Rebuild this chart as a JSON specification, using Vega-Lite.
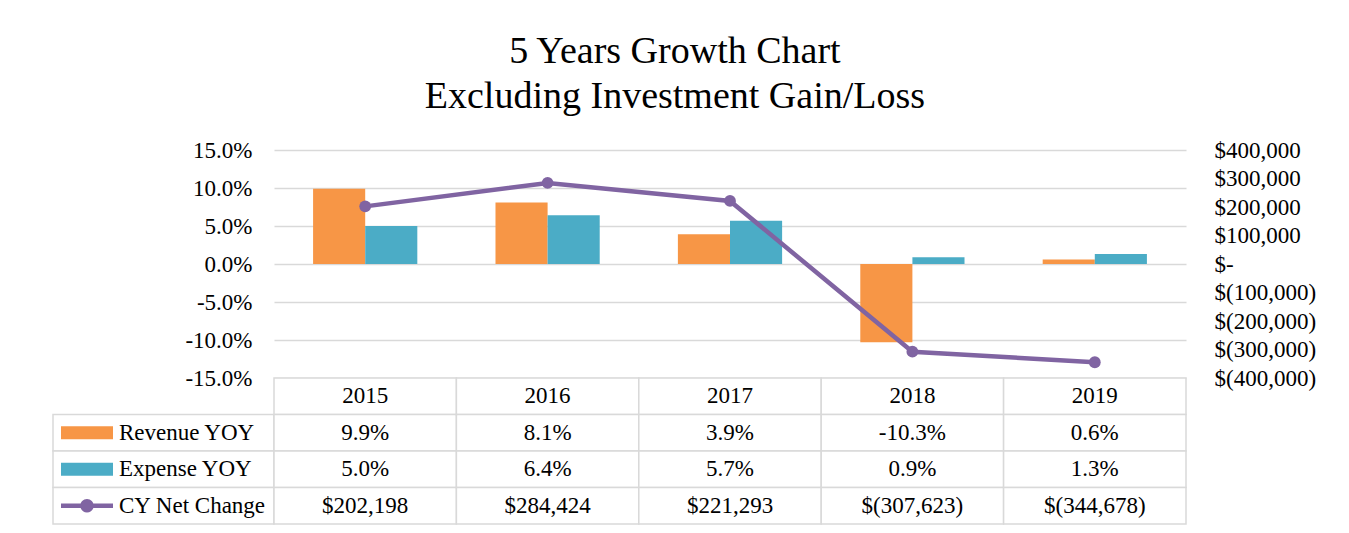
{
  "$schema": "https://vega.github.io/schema/vega-lite/v6.json",
  "background": "white",
  "padding": {"left": 52, "top": 33, "right": 10, "bottom": 5},
  "config": {
    "view": {"stroke": null},
    "font": "Liberation Serif",
    "locale": {"number": {"decimal": ".", "thousands": ",", "grouping": [3], "currency": ["$", ""], "minus": "-"}}
  },
  "title": {
    "text": ["5 Years Growth Chart", "Excluding Investment Gain/Loss"],
    "font": "Liberation Serif",
    "fontSize": 38,
    "fontWeight": "normal",
    "color": "#000000",
    "lineHeight": 45,
    "anchor": "middle",
    "offset": 23,
    "dx": -9
  },
  "datasets": {
    "growth": [
      {"Year": "2015", "Revenue YOY": 0.099, "Expense YOY": 0.050, "CY Net Change": 202198},
      {"Year": "2016", "Revenue YOY": 0.081, "Expense YOY": 0.064, "CY Net Change": 284424},
      {"Year": "2017", "Revenue YOY": 0.039, "Expense YOY": 0.057, "CY Net Change": 221293},
      {"Year": "2018", "Revenue YOY": -0.103, "Expense YOY": 0.009, "CY Net Change": -307623},
      {"Year": "2019", "Revenue YOY": 0.006, "Expense YOY": 0.013, "CY Net Change": -344678}
    ],
    "series": [
      {"series": "Revenue YOY"},
      {"series": "Expense YOY"},
      {"series": "CY Net Change"}
    ]
  },
  "columns": 2,
  "spacing": 0,
  "bounds": "flush",
  "resolve": {"scale": {"x": "independent", "y": "independent", "color": "independent", "shape": "independent"}},
  "concat": [
    {
      "width": 221,
      "height": 228,
      "data": {"values": []},
      "mark": {"type": "text"},
      "encoding": {}
    },
    {
      "width": 912,
      "height": 228,
      "data": {"name": "growth"},
      "layer": [
        {
          "transform": [{"fold": ["Revenue YOY", "Expense YOY"], "as": ["series", "value"]}],
          "mark": {"type": "bar"},
          "encoding": {
            "x": {"field": "Year", "type": "nominal", "scale": {"paddingInner": 0, "paddingOuter": 0}, "axis": null},
            "xOffset": {"field": "series", "type": "nominal", "scale": {"domain": ["Revenue YOY", "Expense YOY"], "paddingInner": 0, "paddingOuter": 0.75}},
            "y": {
              "field": "value", "type": "quantitative",
              "scale": {"domain": [-0.15, 0.15], "nice": false},
              "axis": {
                "orient": "left", "title": null,
                "values": [-0.15, -0.1, -0.05, 0, 0.05, 0.1, 0.15],
                "format": ".1%",
                "grid": true, "gridColor": "#d9d9d9", "gridWidth": 1.5,
                "domain": false, "ticks": false,
                "labelPadding": 22, "labelFontSize": 23, "labelColor": "#000000",
                "labelFont": "Liberation Serif"
              }
            },
            "color": {"field": "series", "type": "nominal", "scale": {"domain": ["Revenue YOY", "Expense YOY"], "range": ["#F79646", "#4BACC6"]}, "legend": null}
          }
        },
        {
          "mark": {"type": "line", "color": "#8064A2", "strokeWidth": 4.5, "point": {"filled": true, "size": 140, "color": "#8064A2"}},
          "encoding": {
            "x": {"field": "Year", "type": "nominal"},
            "y": {
              "field": "CY Net Change", "type": "quantitative",
              "scale": {"domain": [-400000, 400000], "nice": false},
              "axis": {
                "orient": "right", "title": null,
                "values": [-400000, -300000, -200000, -100000, 0, 100000, 200000, 300000, 400000],
                "labelExpr": "datum.value == 0 ? '$-' : (datum.value < 0 ? '$(' + format(-datum.value, ',') + ')' : '$' + format(datum.value, ','))",
                "grid": false, "domain": false, "ticks": false,
                "labelPadding": 28, "labelFontSize": 23, "labelColor": "#000000",
                "labelFont": "Liberation Serif"
              }
            }
          }
        }
      ],
      "resolve": {"scale": {"y": "independent"}}
    },
    {
      "width": 221,
      "height": 146,
      "data": {"name": "series"},
      "encoding": {
        "y": {"field": "series", "type": "nominal", "scale": {"domain": ["Year", "Revenue YOY", "Expense YOY", "CY Net Change"], "paddingInner": 0, "paddingOuter": 0}, "axis": null}
      },
      "layer": [
        {"mark": {"type": "rect", "fill": "white", "stroke": "#d9d9d9", "strokeWidth": 1.5}},
        {
          "mark": {"type": "point", "filled": true, "size": 2704, "opacity": 1, "xOffset": -76.5},
          "encoding": {
            "shape": {"field": "series", "type": "nominal", "legend": null, "scale": {"domain": ["Revenue YOY", "Expense YOY", "CY Net Change"], "range": ["M-1,-0.25H1V0.25H-1Z", "M-1,-0.25H1V0.25H-1Z", "M-1,-0.09H1V0.09H-1Z M0.26,0A0.26,0.26 0 1,1 -0.26,0A0.26,0.26 0 1,1 0.26,0Z"]}},
            "color": {"field": "series", "type": "nominal", "legend": null, "scale": {"domain": ["Revenue YOY", "Expense YOY", "CY Net Change"], "range": ["#F79646", "#4BACC6", "#8064A2"]}}
          }
        },
        {
          "mark": {"type": "text", "fontSize": 23, "align": "left", "dx": -44.5, "color": "#000000", "font": "Liberation Serif"},
          "encoding": {"text": {"field": "series"}}
        }
      ]
    },
    {
      "width": 912,
      "height": 146,
      "data": {"name": "growth"},
      "transform": [
        {"fold": ["Year", "Revenue YOY", "Expense YOY", "CY Net Change"], "as": ["row", "value"]},
        {"calculate": "datum.row == 'Year' ? datum.value : (datum.row == 'CY Net Change' ? (datum.value < 0 ? '$(' + format(-datum.value, ',') + ')' : '$' + format(datum.value, ',')) : replace(format(datum.value, '.1%'), '\u2212', '-'))", "as": "label"}
      ],
      "encoding": {
        "x": {"field": "Year", "type": "nominal", "scale": {"paddingInner": 0, "paddingOuter": 0}, "axis": null},
        "y": {"field": "row", "type": "nominal", "scale": {"domain": ["Year", "Revenue YOY", "Expense YOY", "CY Net Change"], "paddingInner": 0, "paddingOuter": 0}, "axis": null}
      },
      "layer": [
        {"mark": {"type": "rect", "fill": "white", "stroke": "#d9d9d9", "strokeWidth": 1.5}},
        {
          "mark": {"type": "text", "fontSize": 23, "color": "#000000", "font": "Liberation Serif"},
          "encoding": {"text": {"field": "label"}}
        }
      ]
    }
  ]
}
